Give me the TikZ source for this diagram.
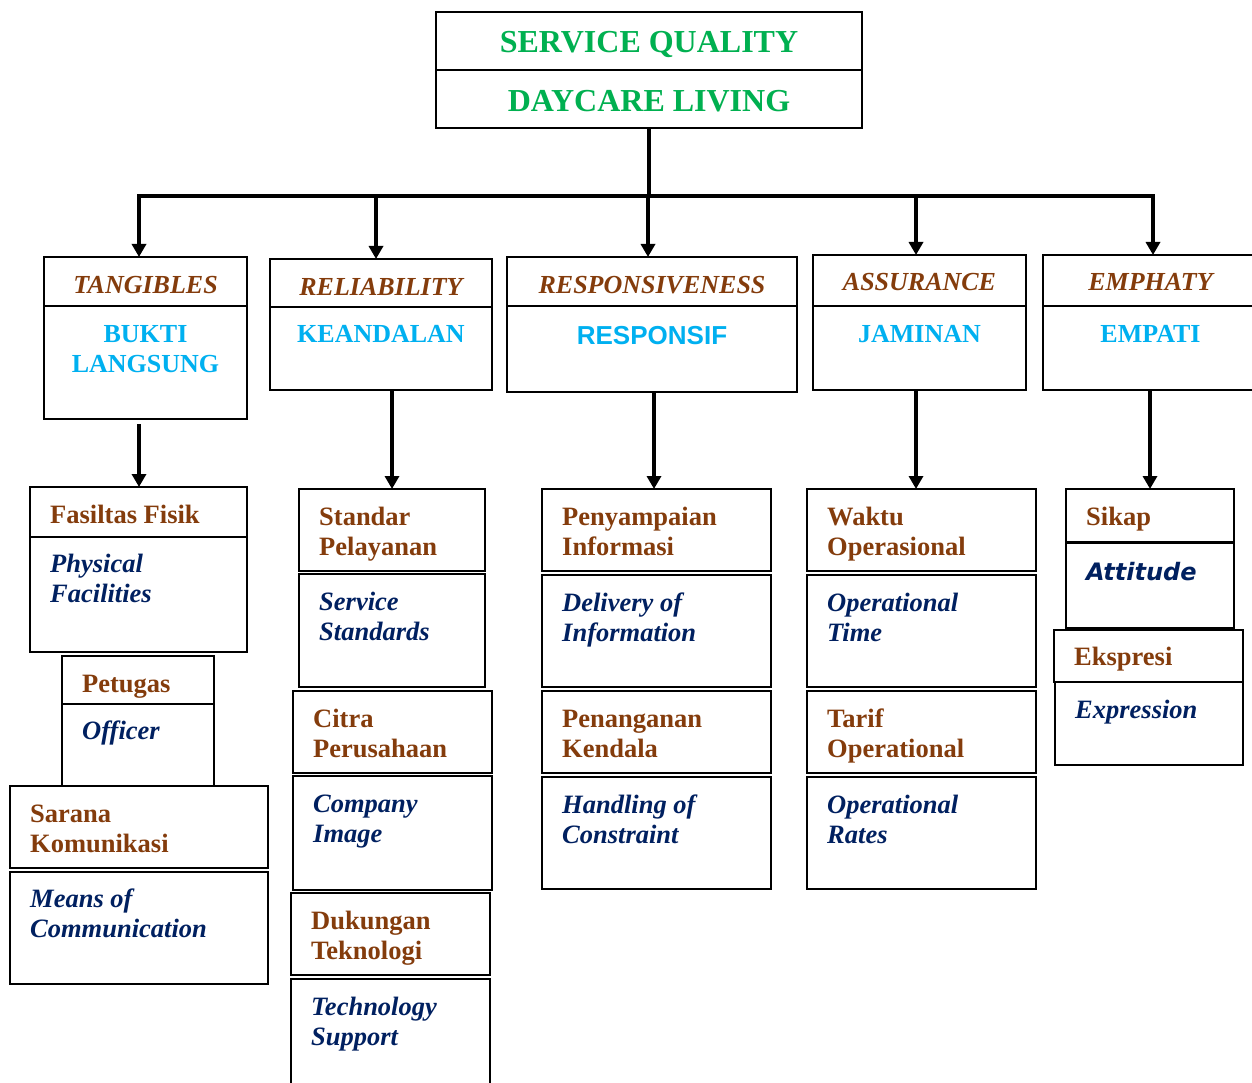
\documentclass[tikz,border=0pt]{standalone}
\usepackage{fontspec}
\setmainfont{Liberation Serif}
\newfontfamily\headsans{Liberation Sans}
\newfontfamily\attfont{DejaVu Sans Bold Oblique}
\usetikzlibrary{arrows.meta}

\definecolor{sqgreen}{HTML}{00B050}
\definecolor{sqcyan}{HTML}{00B0F0}
\definecolor{sqbrown}{HTML}{843C0C}
\definecolor{sqnavy}{HTML}{002060}

\tikzset{
  frame/.style={draw=black, line width=2pt, inner sep=0pt, outer sep=0pt},
  link/.style={line width=3.5pt},
  arr/.style={link, -{Triangle[width=14pt,length=13pt]}},
  titletext/.style={text=sqgreen, font=\fontsize{32}{36}\selectfont\bfseries, inner sep=0pt, anchor=base},
  cattext/.style={text=sqbrown, font=\fontsize{26}{30}\selectfont\bfseries\itshape, inner sep=0pt, anchor=base},
  idtext/.style={text=sqcyan, font=\fontsize{26}{30}\selectfont\bfseries, inner sep=0pt, anchor=base, align=center},
  subid/.style={text=sqbrown, font=\fontsize{26.5}{30}\selectfont\bfseries, inner sep=0pt, anchor=base west, align=left},
  suben/.style={text=sqnavy, font=\fontsize{26.5}{30}\selectfont\bfseries\itshape, inner sep=0pt, anchor=base west, align=left},
}

% box from its corners: name, x1, y1, x2, y2
\newcommand\sqbox[5]{\node[frame, minimum width={(#4-#2)*1pt}, minimum height={(#5-#3)*1pt}] (#1) at ({(#2+#4)/2},{(#3+#5)/2}) {};}
% left-aligned label inside a box: name, box, style, baseline of its last line below the box top, text
\newcommand\sqlabel[5]{\node[#3] (#1) at ([shift={(20,#4)}]#2.north west) {#5};}

\begin{document}
\begin{tikzpicture}[x=1pt, y=-1pt]
\useasboundingbox[fill=white] (0,0) rectangle (1252,1083);

% title
\sqbox{top1}{436}{12}{862}{70}
\sqbox{top2}{436}{70}{862}{128}
\node[titletext] (t1) at ([yshift=-41pt]top1.north) {SERVICE QUALITY};
\node[titletext] (t2) at ([yshift=-42pt]top2.north) {DAYCARE LIVING};

% dimensions
\sqbox{c1h}{44}{257}{247}{306}
\sqbox{c1b}{44}{306}{247}{419}
\sqbox{c2h}{270}{259}{492}{307}
\sqbox{c2b}{270}{307}{492}{390}
\sqbox{c3h}{507}{257}{797}{306}
\sqbox{c3b}{507}{306}{797}{392}
\sqbox{c4h}{813}{255}{1026}{306}
\sqbox{c4b}{813}{306}{1026}{390}
\sqbox{c5h}{1043}{255}{1258}{306}
\sqbox{c5b}{1043}{306}{1258}{390}

\node[cattext] (lc1) at ([yshift=-36pt]c1h.north) {TANGIBLES};
\node[cattext] (lc2) at ([yshift=-36pt]c2h.north) {RELIABILITY};
\node[cattext] (lc3) at ([yshift=-36pt]c3h.north) {RESPONSIVENESS};
\node[cattext] (lc4) at ([yshift=-35pt]c4h.north) {ASSURANCE};
\node[cattext] (lc5) at ([yshift=-35pt]c5h.north) {EMPHATY};

\node[idtext] (ic1) at ([yshift=-66pt]c1b.north) {BUKTI\\LANGSUNG};
\node[idtext] (ic2) at ([yshift=-35pt]c2b.north) {KEANDALAN};
\node[idtext, font=\headsans\fontsize{26}{30}\selectfont\bfseries] (ic3) at ([yshift=-38pt]c3b.north) {RESPONSIF};
\node[idtext] (ic4) at ([yshift=-36pt]c4b.north) {JAMINAN};
\node[idtext] (ic5) at ([yshift=-36pt]c5b.north) {EMPATI};

% indicators, column 1
\sqbox{s11a}{30}{487}{247}{537}
\sqbox{s11b}{30}{537}{247}{652}
\sqbox{s12a}{62}{656}{214}{704}
\sqbox{s12b}{62}{704}{214}{786}
\sqbox{s13a}{10}{786}{268}{868}
\sqbox{s13b}{10}{872}{268}{984}
\sqlabel{l11a}{s11a}{subid}{36}{Fasiltas Fisik}
\sqlabel{l11b}{s11b}{suben}{65}{Physical\\Facilities}
\sqlabel{l12a}{s12a}{subid}{36}{Petugas}
\sqlabel{l12b}{s12b}{suben}{35}{Officer}
\sqlabel{l13a}{s13a}{subid}{66}{Sarana\\Komunikasi}
\sqlabel{l13b}{s13b}{suben}{65}{Means of\\Communication}

% column 2
\sqbox{s21a}{299}{489}{485}{571}
\sqbox{s21b}{299}{574}{485}{687}
\sqbox{s22a}{293}{691}{492}{773}
\sqbox{s22b}{293}{776}{492}{890}
\sqbox{s23a}{291}{893}{490}{975}
\sqbox{s23b}{291}{979}{490}{1095}
\sqlabel{l21a}{s21a}{subid}{66}{Standar\\Pelayanan}
\sqlabel{l21b}{s21b}{suben}{66}{Service\\Standards}
\sqlabel{l22a}{s22a}{subid}{66}{Citra\\Perusahaan}
\sqlabel{l22b}{s22b}{suben}{66}{Company\\Image}
\sqlabel{l23a}{s23a}{subid}{66}{Dukungan\\Teknologi}
\sqlabel{l23b}{s23b}{suben}{66}{Technology\\Support}

% column 3
\sqbox{s31a}{542}{489}{771}{571}
\sqbox{s31b}{542}{575}{771}{687}
\sqbox{s32a}{542}{691}{771}{773}
\sqbox{s32b}{542}{777}{771}{889}
\sqlabel{l31a}{s31a}{subid}{66}{Penyampaian\\Informasi}
\sqlabel{l31b}{s31b}{suben}{66}{Delivery of\\Information}
\sqlabel{l32a}{s32a}{subid}{66}{Penanganan\\Kendala}
\sqlabel{l32b}{s32b}{suben}{66}{Handling of\\Constraint}

% column 4
\sqbox{s41a}{807}{489}{1036}{571}
\sqbox{s41b}{807}{575}{1036}{687}
\sqbox{s42a}{807}{691}{1036}{773}
\sqbox{s42b}{807}{777}{1036}{889}
\sqlabel{l41a}{s41a}{subid}{66}{Waktu\\Operasional}
\sqlabel{l41b}{s41b}{suben}{66}{Operational\\Time}
\sqlabel{l42a}{s42a}{subid}{66}{Tarif\\Operational}
\sqlabel{l42b}{s42b}{suben}{66}{Operational\\Rates}

% column 5
\sqbox{s51a}{1066}{489}{1234}{542}
\sqbox{s51b}{1066}{543}{1234}{628}
\sqbox{s52a}{1054}{630}{1243}{682}
\sqbox{s52b}{1055}{682}{1243}{765}
\sqlabel{l51a}{s51a}{subid}{36}{Sikap}
\sqlabel{l51b}{s51b}{suben, font=\attfont\fontsize{24}{30}\selectfont}{37}{Attitude}
\sqlabel{l52a}{s52a}{subid}{35}{Ekspresi}
\sqlabel{l52b}{s52b}{suben}{36}{Expression}

% distribution bar
\coordinate (b1) at (139,196);
\coordinate (b2) at (376,196);
\coordinate (b3) at (648,196);
\coordinate (b4) at (916,196);
\coordinate (b5) at (1153,196);
\draw[link] (top2.south) -- (top2.south |- b1);
\draw[link, line cap=rect] (b1) -- (b5);
\foreach \i in {1,...,5} \draw[arr] (b\i) -- (b\i |- c\i h.north);

% column arrows
\coordinate (d1) at (139,0);
\coordinate (d2) at (392,0);
\coordinate (d3) at (654,0);
\coordinate (d4) at (916,0);
\coordinate (d5) at (1150,0);
\draw[arr, shorten <=5pt] (c1b.south -| d1) -- (d1 |- s11a.north);
\draw[arr] (c2b.south -| d2) -- (d2 |- s21a.north);
\draw[arr] (c3b.south -| d3) -- (d3 |- s31a.north);
\draw[arr] (c4b.south -| d4) -- (d4 |- s41a.north);
\draw[arr] (c5b.south -| d5) -- (d5 |- s51a.north);
\end{tikzpicture}
\end{document}
